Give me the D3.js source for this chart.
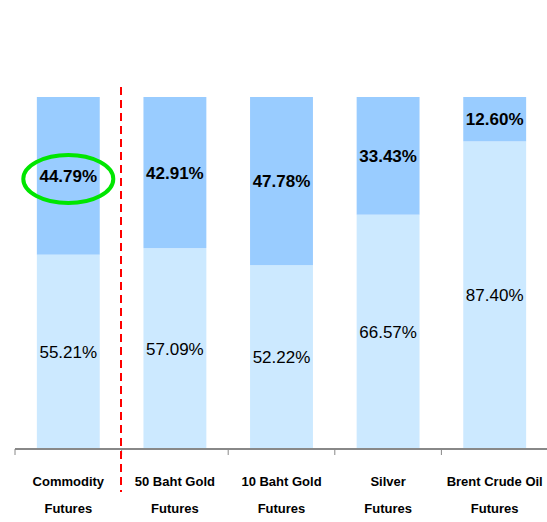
<!DOCTYPE html>
<html>
<head>
<meta charset="utf-8">
<script src="https://cdn.jsdelivr.net/npm/d3@7"></script>
<style>
  body { margin: 0; background: #fff; }
  svg { display: block; font-family: "Liberation Sans", Arial, sans-serif; }
</style>
</head>
<body>
<script>
var categories = [['Commodity', 'Futures'], ['50 Baht Gold', 'Futures'], ['10 Baht Gold', 'Futures'], ['Silver', 'Futures'], ['Brent Crude Oil', 'Futures']];
var lower = [55.21, 57.09, 52.22, 66.57, 87.40];
var upper = [44.79, 42.91, 47.78, 33.43, 12.60];

var width = 547, height = 522;
var svg = d3.select('body').append('svg')
    .attr('width', width)
    .attr('height', height);

var x = d3.scaleBand()
    .domain(d3.range(categories.length))
    .range([15, 548])
    .paddingInner(0.41)
    .paddingOuter(0.205);

var y = d3.scaleLinear()
    .domain([0, 100])
    .range([449, 97]);

// lower part
svg.selectAll('rect.lower')
    .data(lower)
    .enter().append('rect')
    .attr('class', 'lower')
    .attr('x', function (d, i) { return x(i); })
    .attr('width', x.bandwidth())
    .attr('y', function (d) { return y(d); })
    .attr('height', function (d) { return y(0) - y(d); })
    .attr('fill', '#cce9ff');

// upper part
svg.selectAll('rect.upper')
    .data(upper)
    .enter().append('rect')
    .attr('class', 'upper')
    .attr('x', function (d, i) { return x(i); })
    .attr('width', x.bandwidth())
    .attr('y', function (d, i) { return y(lower[i] + d); })
    .attr('height', function (d) { return y(0) - y(d); })
    .attr('fill', '#99ccff');

svg.selectAll('text.lower')
    .data(lower)
    .enter().append('text')
    .attr('x', function (d, i) { return x(i) + x.bandwidth() / 2; })
    .attr('y', function (d) { return y(d / 2) + 6; })
    .attr('text-anchor', 'middle')
    .attr('font-size', 17)
    .text(function (d) { return d.toFixed(2) + '%'; });

svg.selectAll('text.upper')
    .data(upper)
    .enter().append('text')
    .attr('x', function (d, i) { return x(i) + x.bandwidth() / 2; })
    .attr('y', function (d, i) { return y(lower[i] + d / 2) + 6; })
    .attr('text-anchor', 'middle')
    .attr('font-size', 17)
    .attr('font-weight', 'bold')
    .text(function (d) { return d.toFixed(2) + '%'; });

// axis
var step = x.step();
var ticks = d3.range(categories.length + 1).map(function (i) { return 15 + i * step; });
svg.append('line')
    .attr('x1', 15).attr('x2', 548)
    .attr('y1', 449).attr('y2', 449)
    .attr('stroke', '#888').attr('stroke-width', 2);
svg.selectAll('line.tick')
    .data(ticks)
    .enter().append('line')
    .attr('x1', function (d) { return d; })
    .attr('x2', function (d) { return d; })
    .attr('y1', 449).attr('y2', 455)
    .attr('stroke', '#888').attr('stroke-width', 1);

var labels = svg.selectAll('text.cat')
    .data(categories)
    .enter().append('text')
    .attr('text-anchor', 'middle')
    .attr('font-size', 13)
    .attr('font-weight', 'bold');
labels.append('tspan')
    .attr('x', function (d, i) { return x(i) + x.bandwidth() / 2; })
    .attr('y', 486)
    .text(function (d) { return d[0]; });
labels.append('tspan')
    .attr('x', function (d, i) { return x(i) + x.bandwidth() / 2; })
    .attr('y', 513)
    .text(function (d) { return d[1]; });

// red divider
svg.append('line')
    .attr('x1', 121).attr('x2', 121)
    .attr('y1', 87).attr('y2', 492)
    .attr('stroke', '#ff0000').attr('stroke-width', 2)
    .attr('stroke-dasharray', '8,5');

// highlight ellipse
svg.append('ellipse')
    .attr('cx', x(0) + x.bandwidth() / 2)
    .attr('cy', 179)
    .attr('rx', 45)
    .attr('ry', 24)
    .attr('fill', 'none')
    .attr('stroke', '#00e600')
    .attr('stroke-width', 4);
</script>
</body>
</html>
